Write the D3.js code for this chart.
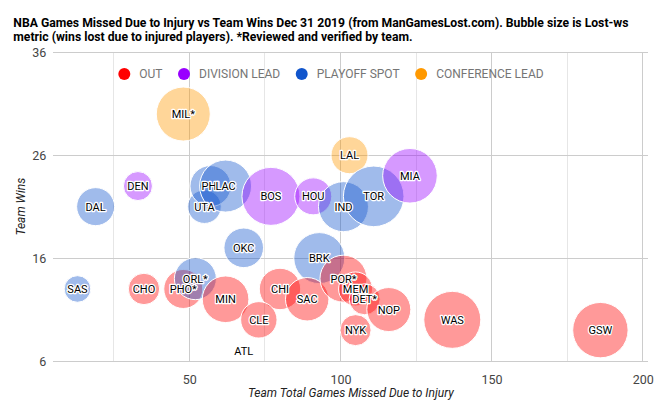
<!DOCTYPE html>
<html>
<head>
<meta charset="utf-8">
<script src="https://cdn.jsdelivr.net/npm/d3@7"></script>
<style>
  html, body { margin: 0; padding: 0; background: #fff; }
  svg { display: block; font-family: Roboto, "Noto Sans", Arial, sans-serif; }
</style>
</head>
<body>
<svg id="chart" width="661" height="408"></svg>
<script>
// ---- Data ----
const teams = ["MIL*","LAL","DEN","DAL","UTA","PHI","LAC","BOS","HOU","IND","TOR","MIA","OKC","BRK","SAS","CHO","PHO*","ORL*","MIN","CHI","SAC","CLE","ATL","POR*","MEM","DET*","NOP","NYK","WAS","GSW"];
const gamesMissed = [48,103,33,19,55,57,62,77,91,101,111,123,68,93,13,35,48,52,62,80,89,73,68,101,105,108,116,105,137,186];
const wins = [30,26,23,21,21,23,23,22,22,21,22,24,17,16,13,13,13,14,12,13,12,10,7,14,13,12,11,9,10,9];
const status = ["CONFERENCE LEAD","CONFERENCE LEAD","DIVISION LEAD","PLAYOFF SPOT","PLAYOFF SPOT","PLAYOFF SPOT","PLAYOFF SPOT","DIVISION LEAD","DIVISION LEAD","PLAYOFF SPOT","PLAYOFF SPOT","DIVISION LEAD","PLAYOFF SPOT","PLAYOFF SPOT","PLAYOFF SPOT","OUT","OUT","PLAYOFF SPOT","OUT","OUT","OUT","OUT","OUT","OUT","OUT","OUT","OUT","OUT","OUT","OUT"];
const lostWS = [2.7,1.85,1.45,1.9,1.68,2.05,2.6,2.9,1.85,2.5,3.03,2.73,1.98,2.55,1.33,1.57,1.95,2.1,2.33,2.07,2.17,1.82,0.2,2.35,1.7,1.55,2.2,1.55,2.85,2.77];

const statusOrder = ["OUT","DIVISION LEAD","PLAYOFF SPOT","CONFERENCE LEAD"];
const statusColors = ["#ff0000","#9900ff","#1155cc","#ff9900"];

const xTicks = [50,100,150,200];
const xMinorTicks = [25,75,125,175];
const yTicks = [6,16,26,36];

const titleLines = [
  "NBA Games Missed Due to Injury vs Team Wins Dec 31 2019 (from ManGamesLost.com). Bubble size is Lost-ws",
  "metric (wins lost due to injured players). *Reviewed and verified by team."
];
const xTitle = "Team Total Games Missed Due to Injury";
const yTitle = "Team Wins";

// ---- Layout ----
const svg = d3.select("#chart");
const plot = { left: 53.3, right: 648.3, top: 52.3, bottom: 361 };

const x = d3.scaleLinear().domain([5, 201.85]).range([plot.left, plot.right]);
const y = d3.scaleLinear().domain([6, 36]).range([plot.bottom, plot.top]);
const r = d3.scaleLinear().domain([0, 3.03]).range([0, 30.3]);
const color = d3.scaleOrdinal().domain(statusOrder).range(statusColors);

const data = teams.map((t, i) => ({ team: t, gm: gamesMissed[i], w: wins[i], s: status[i], ws: lostWS[i] }));

// Title
svg.append("g").selectAll("text").data(titleLines).join("text")
  .attr("x", 13.3)
  .attr("y", (d, i) => 27.3 + i * 13.6)
  .attr("font-size", 12.2)
  .attr("font-weight", "bold")
  .attr("fill", "#000")
  .text(d => d);

// Gridlines
const grid = svg.append("g");
grid.selectAll("line.minor").data(xMinorTicks).join("line")
  .attr("class", "minor")
  .attr("x1", d => x(d)).attr("x2", d => x(d))
  .attr("y1", plot.top).attr("y2", plot.bottom)
  .attr("stroke", "#e6e6e6").attr("stroke-width", 1).attr("shape-rendering", "crispEdges");
grid.selectAll("line.vmajor").data(xTicks).join("line")
  .attr("class", "vmajor")
  .attr("x1", d => x(d)).attr("x2", d => x(d))
  .attr("y1", plot.top).attr("y2", plot.bottom)
  .attr("stroke", "#cccccc").attr("stroke-width", 1).attr("shape-rendering", "crispEdges");
grid.selectAll("line.hmajor").data(yTicks).join("line")
  .attr("class", "hmajor")
  .attr("x1", plot.left).attr("x2", plot.right)
  .attr("y1", d => y(d)).attr("y2", d => y(d))
  .attr("stroke", "#cccccc").attr("stroke-width", 1).attr("shape-rendering", "crispEdges");

// Axes (labels only, via d3 axes)
const xAxis = svg.append("g")
  .attr("transform", `translate(0,${plot.bottom})`)
  .call(d3.axisBottom(x).tickValues(xTicks).tickSize(0).tickPadding(14).tickFormat(d3.format("d")));
xAxis.select(".domain").remove();
xAxis.selectAll("text").attr("font-size", 12.5).attr("fill", "#444").attr("font-family", "Roboto");

const yAxis = svg.append("g")
  .attr("transform", `translate(${plot.left},0)`)
  .call(d3.axisLeft(y).tickValues(yTicks).tickSize(0).tickPadding(7).tickFormat(d3.format("d")));
yAxis.select(".domain").remove();
yAxis.selectAll("text").attr("font-size", 12.5).attr("fill", "#444").attr("font-family", "Roboto");

// Axis titles
svg.append("text")
  .attr("x", (plot.left + plot.right) / 2)
  .attr("y", 397)
  .attr("text-anchor", "middle")
  .attr("font-size", 12)
  .attr("font-style", "italic")
  .attr("fill", "#222")
  .text(xTitle);
svg.append("text")
  .attr("transform", `translate(24.5,${(plot.top + plot.bottom) / 2}) rotate(-90)`)
  .attr("text-anchor", "middle")
  .attr("font-size", 12)
  .attr("font-style", "italic")
  .attr("fill", "#222")
  .text(yTitle);

// Bubbles
const bubbles = svg.append("g");
bubbles.selectAll("circle").data(data).join("circle")
  .attr("cx", d => x(d.gm))
  .attr("cy", d => y(d.w))
  .attr("r", d => r(d.ws))
  .attr("fill", d => color(d.s))
  .attr("fill-opacity", 0.4)
  .attr("stroke", "#fff")
  .attr("stroke-width", 1);

// Bubble labels
const labels = svg.append("g");
labels.selectAll("text").data(data).join("text")
  .attr("x", d => x(d.gm))
  .attr("y", d => y(d.w))
  .attr("dy", "0.36em")
  .attr("text-anchor", "middle")
  .attr("font-size", 11)
  .attr("fill", "#000")
  .attr("stroke", "#fff")
  .attr("stroke-width", 2.5)
  .attr("stroke-linejoin", "round")
  .attr("paint-order", "stroke")
  .text(d => d.team);

// Legend
const legend = svg.append("g");
let cursor = 118.3;
statusOrder.forEach((s, i) => {
  legend.append("circle")
    .attr("cx", cursor + 6).attr("cy", 74).attr("r", 6)
    .attr("fill", color(s));
  const t = legend.append("text")
    .attr("x", cursor + 21).attr("y", 74).attr("dy", "0.36em")
    .attr("font-size", 12).attr("fill", "#757575")
    .text(s);
  cursor = cursor + 21 + t.node().getComputedTextLength() + 15.5;
});
</script>
</body>
</html>
